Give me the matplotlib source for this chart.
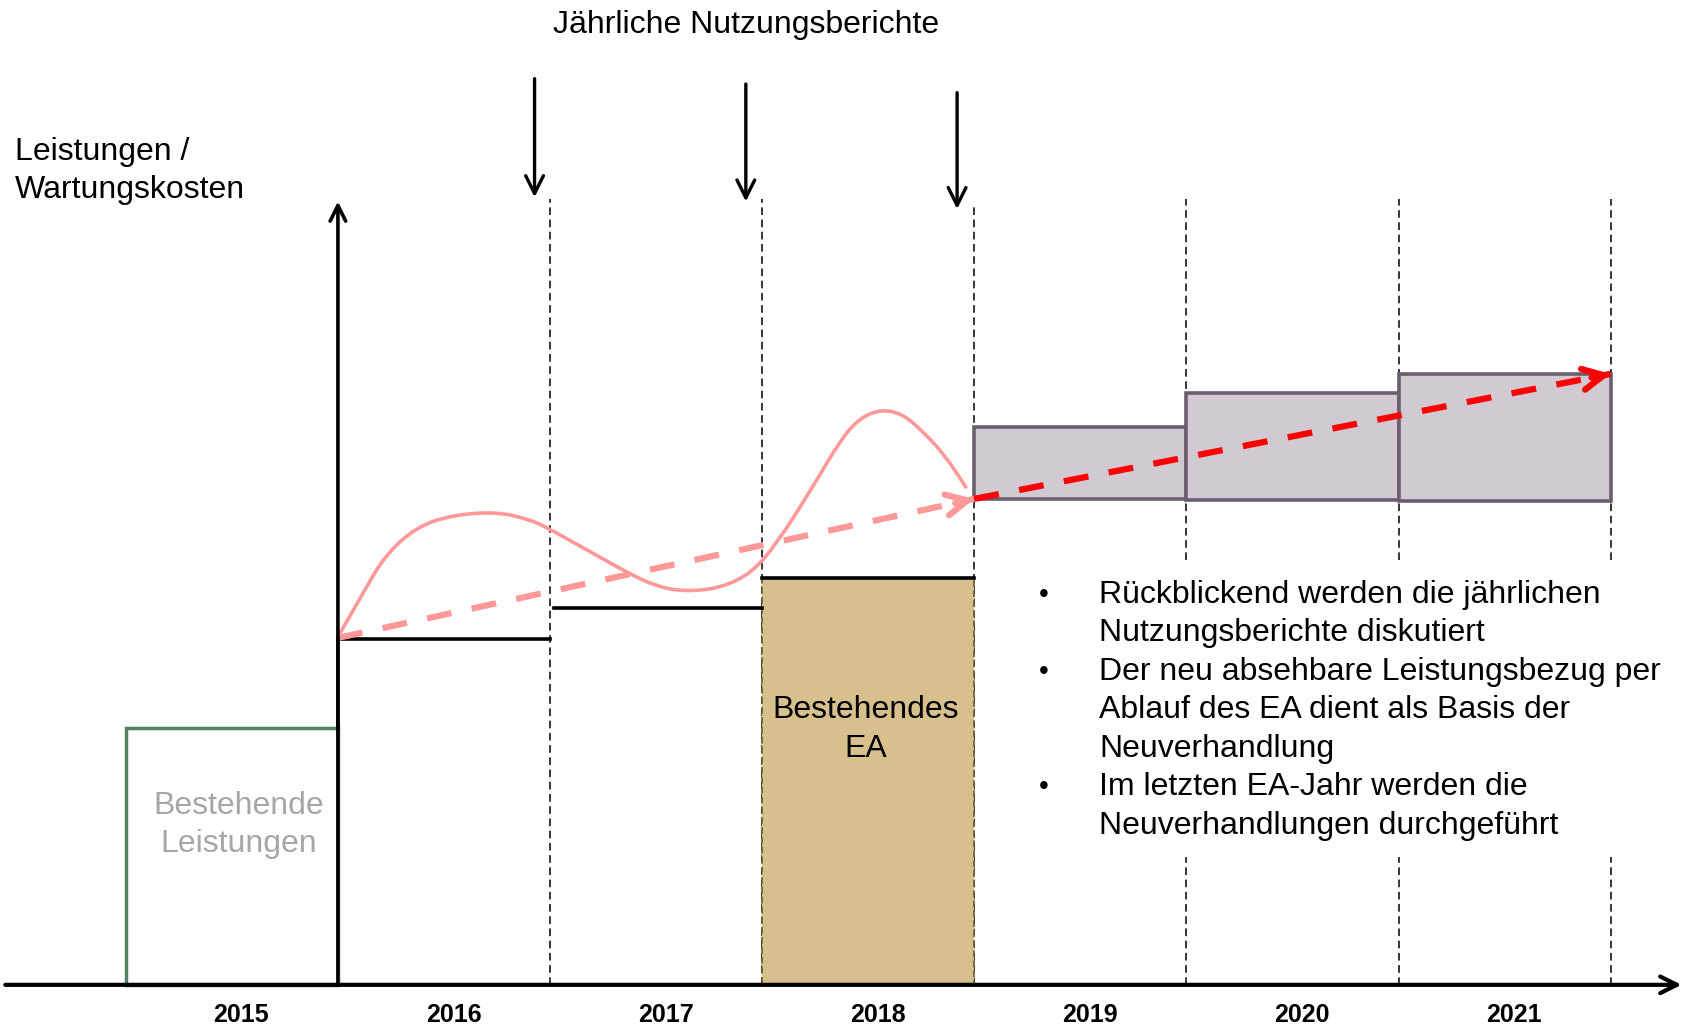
import numpy as np
import matplotlib.pyplot as plt
from matplotlib.patches import Rectangle, PathPatch
from matplotlib.path import Path

plt.rcParams['font.family'] = ['Liberation Sans', 'DejaVu Sans']

# Jahre und Grenzen
years = [2015, 2016, 2017, 2018, 2019, 2020, 2021]
bounds = [2016.5, 2017.5, 2018.5, 2019.5, 2020.5, 2021.5]

# Werte (willkürliche Einheiten)
bestehend_2015 = 2.38
level_2016 = 3.21
level_2017 = 3.50
ea_2018 = 3.78
neu_years = [2019, 2020, 2021]
neu_bottom = [4.51, 4.50, 4.49]
neu_top = [5.18, 5.49, 5.67]

# geschwungene Nutzungskurve
curve_x = [2015.50, 2015.62, 2015.72, 2015.87, 2016.04, 2016.25, 2016.40, 2016.48,
           2016.67, 2016.88, 2017.00, 2017.13, 2017.30, 2017.45, 2017.57, 2017.72,
           2017.87, 2017.96, 2018.06, 2018.16, 2018.25, 2018.36, 2018.46]
curve_y = [3.23, 3.64, 3.98, 4.25, 4.36, 4.39, 4.32, 4.25,
           4.04, 3.81, 3.70, 3.65, 3.68, 3.82, 4.10, 4.56,
           5.06, 5.26, 5.34, 5.30, 5.15, 4.92, 4.62]

trend_past = [(2015.5, 3.22), (2018.5, 4.51)]
trend_future = [(2018.5, 4.51), (2021.5, 5.67)]

report_x = [2016.427, 2017.423, 2018.419]
report_top = [8.41, 8.36, 8.28]
report_bottom = [7.31, 7.27, 7.20]

bullets = [
    ["Rückblickend werden die jährlichen", "Nutzungsberichte diskutiert"],
    ["Der neu absehbare Leistungsbezug per", "Ablauf des EA dient als Basis der", "Neuverhandlung"],
    ["Im letzten EA-Jahr werden die", "Neuverhandlungen durchgeführt"],
]

fig = plt.figure(figsize=(16.9, 10.29), dpi=100)
ax = fig.add_axes([0, 0, 1, 1])
ax.set_xlim(2013.907, 2021.874)
ax.set_ylim(-0.41, 9.14)
ax.axis('off')

# gestrichelte Jahresgrenzen
dash = dict(color='black', lw=1.1, dashes=(5, 3))
for b in bounds:
    if b < 2018.6:
        top = 7.29 if b < 2018 else 7.24
        ax.plot([b, b], [0, top], **dash, zorder=1)
    else:
        ax.plot([b, b], [3.94, 7.29], **dash, zorder=1)
        ax.plot([b, b], [0, 1.19], **dash, zorder=1)

# Bestehende Leistungen 2015
ax.add_patch(Rectangle((2014.5, 0), 1, bestehend_2015, fill=False,
                       edgecolor='#548260', lw=2.5, zorder=3))
ax.text(2015.03, 1.48, "Bestehende\nLeistungen", ha='center', va='center',
        fontsize=23, color='#A6A6A6', linespacing=1.36)

# Stufen 2016/2017
ax.plot([2015.5, 2016.5], [level_2016] * 2, color='black', lw=2.6, zorder=3)
ax.plot([2016.52, 2017.5], [level_2017] * 2, color='black', lw=2.6, zorder=3)

# Bestehendes EA 2018
ax.add_patch(Rectangle((2017.5, 0), 1, ea_2018, facecolor='#D7C08D',
                       edgecolor='#6B5B2A', lw=1.2, ls=(0, (4, 2)), zorder=2))
ax.plot([2017.5, 2018.5], [ea_2018] * 2, color='black', lw=2.6, zorder=3)
ax.text(2017.99, 2.37, "Bestehendes\nEA", ha='center', va='center',
        fontsize=23, color='black', linespacing=1.36)

# neue Leistungen
for yr, b0, t0 in zip(neu_years, neu_bottom, neu_top):
    ax.add_patch(Rectangle((yr - 0.5, b0), 1, t0 - b0, facecolor='#D1CAD2',
                           edgecolor='#6B5E6E', lw=2.6, zorder=2))

# Nutzungskurve als geglätteter Pfad (quadratische Bezier-Segmente)
pts = list(zip(curve_x, curve_y))
verts = [pts[0]]
codes = [Path.MOVETO]
for i in range(1, len(pts) - 1):
    mid = ((pts[i][0] + pts[i + 1][0]) / 2, (pts[i][1] + pts[i + 1][1]) / 2)
    verts += [pts[i], mid]
    codes += [Path.CURVE3, Path.CURVE3]
verts.append(pts[-1])
codes.append(Path.LINETO)
ax.add_patch(PathPatch(Path(verts, codes), fill=False, edgecolor='#FF9999',
                       lw=2.6, capstyle='round', joinstyle='round', zorder=4))


def dashed_arrow(seg, color, lw, dashes):
    (x0, y0), (x1, y1) = seg
    ax.plot([x0, x1], [y0, y1], color=color, lw=lw, dashes=dashes,
            solid_capstyle='butt', zorder=5)
    ax.annotate('', xy=(x1, y1), xytext=(x1 - 0.03 * (x1 - x0), y1 - 0.03 * (y1 - y0)),
                arrowprops=dict(arrowstyle='->', color=color, lw=lw,
                                mutation_scale=38, shrinkA=0, shrinkB=0), zorder=5)


dashed_arrow(trend_past, '#FF9999', 4.5, (4.0, 3.3))
dashed_arrow(trend_future, '#FF0000', 4.5, (4.0, 3.3))

# Achsen
ax.annotate('', xy=(2021.834, 0), xytext=(2013.932, 0),
            arrowprops=dict(arrowstyle='->', color='black', lw=3,
                            mutation_scale=30, shrinkA=0, shrinkB=0), zorder=6)
ax.annotate('', xy=(2015.5, 7.27), xytext=(2015.5, 0),
            arrowprops=dict(arrowstyle='->', color='black', lw=2.6,
                            mutation_scale=28, shrinkA=0, shrinkB=0), zorder=6)
ax.plot([2015.5, 2015.5], [bestehend_2015, level_2016], color='black', lw=2.6, zorder=6)

for yr in years:
    ax.text(yr + 0.045, -0.28, str(yr), ha='center', va='center', fontsize=18,
            fontweight='bold')

# Berichtspfeile
for x, t, b in zip(report_x, report_top, report_bottom):
    ax.annotate('', xy=(x, b), xytext=(x, t),
                arrowprops=dict(arrowstyle='->', color='black', lw=2.4,
                                mutation_scale=32, shrinkA=0, shrinkB=0))

ax.text(2017.423, 8.91, "Jährliche Nutzungsberichte", ha='center', va='center',
        fontsize=23)
ax.text(2013.978, 7.55, "Leistungen /\nWartungskosten", ha='left', va='center',
        fontsize=23, linespacing=1.36)

# Aufzählung
y = 3.62
step = 0.357
for item in bullets:
    ax.text(2018.826, y, "•", ha='center', va='center', fontsize=20)
    for line in item:
        ax.text(2019.09, y, line, ha='left', va='center', fontsize=23)
        y -= step

fig.savefig('out.png', dpi=100)
